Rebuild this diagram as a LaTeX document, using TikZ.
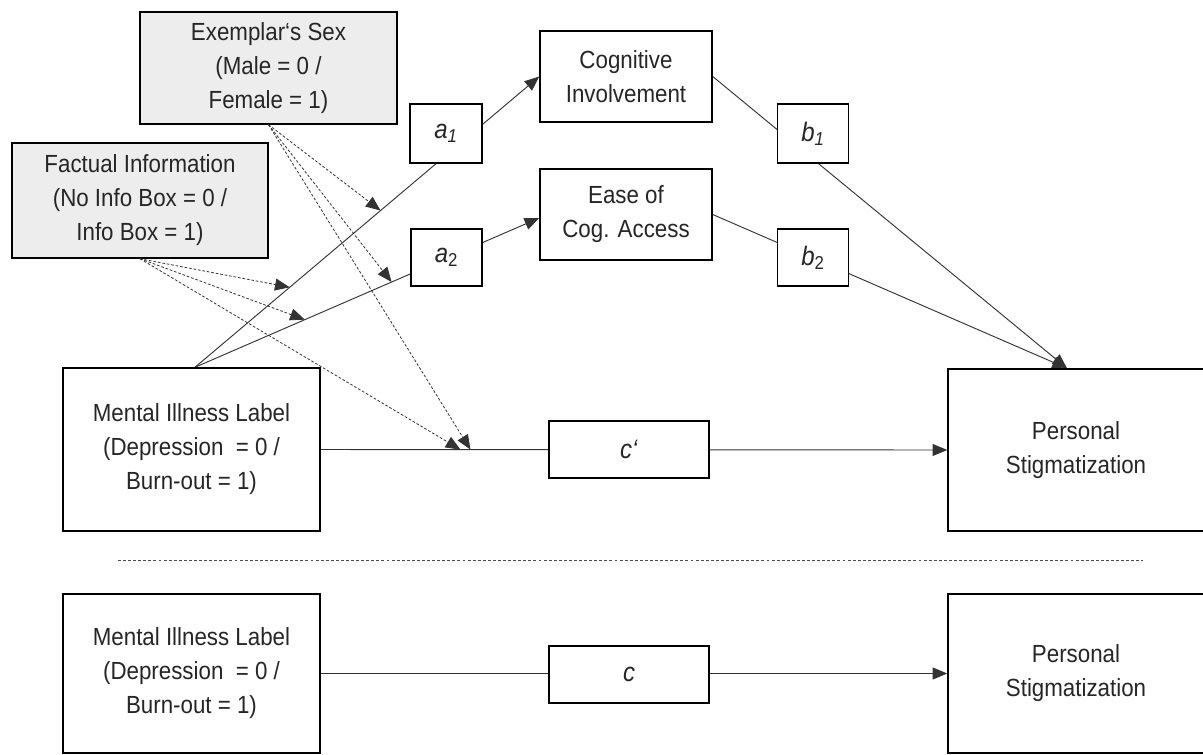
\documentclass[tikz,border=0pt]{standalone}
\usepackage{fontspec}
\setmainfont{Liberation Sans}[FakeStretch=0.9]
\usetikzlibrary{arrows.meta,calc,backgrounds}
\begin{document}
\begin{tikzpicture}[x=0.75pt,y=-0.75pt,
  box/.style={draw=black,line width=1.1pt,fill=white,align=center,inner sep=0pt,
    font=\fontsize{18.6}{25.5}\selectfont,text=black!85},
  graybox/.style={box,fill=black!7},
  tip/.style={-{Triangle[length=11pt,width=9pt]}},
  conn/.style={line width=0.7pt,draw=black!80,tip},
  plain/.style={line width=0.7pt,draw=black!80},
  mod/.style={line width=0.6pt,draw=black!80,dash pattern=on 2pt off 1.4pt,tip},
  sep/.style={line width=0.6pt,draw=black!70,dash pattern=on 2.2pt off 1.6pt}]
\useasboundingbox (0,0) rectangle (1203,754);
% nodes
\node[graybox,minimum width=192.75pt,minimum height=84pt] (exemplar) at (268.5,68) {Exemplar‘s Sex\\(Male = 0 /\\Female = 1)};
\node[graybox,minimum width=192pt,minimum height=86.25pt] (factual) at (140,200.5) {Factual Information\\(No Info Box = 0 /\\Info Box = 1)};
\node[box,minimum width=192.75pt,minimum height=122.25pt] (mental) at (191.5,449.5) {Mental Illness Label\\(Depression \ = 0 /\\Burn-out = 1)};
\node[box,minimum width=54pt,minimum height=44.25pt,font=\fontsize{20}{25.5}\selectfont] (a1) at (446,133.5) {\textit{a}\textsubscript{\textit{1}}};
\node[box,minimum width=53.25pt,minimum height=42.75pt,font=\fontsize{20}{25.5}\selectfont] (a2) at (446.5,257.5) {\textit{a}\textsubscript{2}};
\node[box,minimum width=129pt,minimum height=68.25pt] (cog) at (626,76.5) {Cognitive\\Involvement};
\node[box,minimum width=129pt,minimum height=68.25pt] (ease) at (626,214.5) {Ease of\\Cog. Access};
\node[box,minimum width=53.25pt,minimum height=44.25pt,font=\fontsize{20}{25.5}\selectfont] (b1) at (813,133.5) {\textit{b}\textsubscript{\textit{1}}};
\node[box,minimum width=53.25pt,minimum height=42.75pt,font=\fontsize{20}{25.5}\selectfont] (b2) at (813,257.5) {\textit{b}\textsubscript{2}};
\node[box,minimum width=120pt,minimum height=42.75pt,font=\fontsize{20}{25.5}\selectfont] (cp) at (629,449.5) {\textit{c‘}};
\node[box,minimum width=192pt,minimum height=121.5pt] (personal) at (1076,450) {Personal\\Stigmatization};
\node[box,minimum width=192.75pt,minimum height=119.25pt] (mental2) at (191.5,673.5) {Mental Illness Label\\(Depression \ = 0 /\\Burn-out = 1)};
\node[box,minimum width=120pt,minimum height=42.75pt,font=\fontsize{20}{25.5}\selectfont] (c) at (629,674.5) {\textit{c}};
\node[box,minimum width=192pt,minimum height=119.25pt] (personal2) at (1076,673.5) {Personal\\Stigmatization};
% coordinates
\coordinate (mstart) at ($(mental.north)+(3.5,0)$);
\coordinate (cogin) at (cog.west);
\coordinate (easein) at ($(ease.west)+(0,3.5)$);
\coordinate (ptop) at ($(personal.north)+(-9,0)$);
\coordinate (ea1) at ($(mstart)!0.539!(cogin)$);
\coordinate (fa1) at ($(mstart)!0.275!(cogin)$);
\coordinate (ea2) at ($(mstart)!0.571!(easein)$);
\coordinate (fa2) at ($(mstart)!0.319!(easein)$);
\coordinate (ec) at ($(mental.east)!0.239!(personal.west)$);
\coordinate (fc) at ($(mental.east)!0.223!(personal.west)$);
\coordinate (sepL) at (118,560);
\coordinate (sepR) at (1143,560);
% connectors behind the boxes
\begin{scope}[on background layer]
\draw[conn] (mstart) -- (cogin);
\draw[conn] (mstart) -- (easein);
\draw[conn] (cog.east) -- (ptop);
\draw[conn] (ease.east) -- (ptop);
\draw[conn] (mental.east) -- (personal.west);
\draw[conn] (mental2.east) -- (personal2.west);
\end{scope}
% moderation arrows
\draw[mod] (exemplar.south) -- (ea1);
\draw[mod] (exemplar.south) -- (ea2);
\draw[mod] (exemplar.south) -- (ec);
\draw[mod] (factual.south) -- (fa1);
\draw[mod] (factual.south) -- (fa2);
\draw[mod] (factual.south) -- (fc);
% separator
\draw[sep] (sepL) -- (sepR);
\end{tikzpicture}
\end{document}
